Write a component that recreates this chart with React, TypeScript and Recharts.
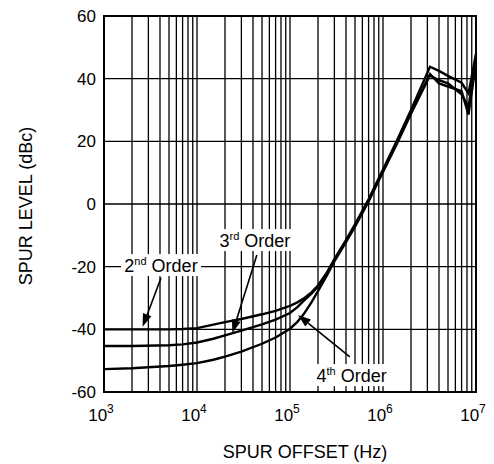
import React from "react";
import {
  LineChart,
  Line,
  XAxis,
  YAxis,
  CartesianGrid,
  ReferenceArea,
  ReferenceLine,
  ReferenceDot,
} from "recharts";

const FONT = '"Liberation Sans", Arial, Helvetica, sans-serif';

// spur offset frequencies (Hz)
const FREQ = [
  1e3, 2e3, 5e3, 7e3, 1e4, 1.5e4, 2e4, 3e4, 5e4, 7e4, 1e5, 1.2e5, 1.4e5, 1.7e5,
  2e5, 2.5e5, 3e5, 4e5, 5e5, 7e5, 1e6, 1.4e6, 2e6, 3.2e6, 4e6, 5e6, 7e6, 8.3e6,
  1e7,
];

// spur level (dBc) per loop filter order
const ORDER2 = [
  -40, -40, -40, -39.9, -39.6, -38.5, -37.7, -36.7, -35.2, -34.1, -32.5, -31.4,
  -30.2, -28.2, -26, -21.8, -17.6, -11.5, -6.5, 1.5, 11, 20, 30, 43.8, 42.5,
  40.9, 38.7, 35.3, 48,
];
const ORDER3 = [
  -45.3, -45.3, -45.1, -44.8, -44.2, -43, -41.9, -40.4, -38.4, -36.9, -34.8,
  -32.9, -30.9, -28.6, -26.3, -22.1, -17.9, -11.8, -6.8, 1.2, 10.6, 19.5, 29.3,
  41.5, 38.5, 37.5, 36, 28.5, 45,
];
const ORDER4 = [
  -52.7, -52.4, -51.7, -51.3, -50.8, -49.7, -48.7, -47.1, -44.6, -42.6, -39.8,
  -37.6, -35.2, -31.4, -27.8, -22.7, -18.3, -12.2, -7.2, 0.8, 10.2, 19, 28.8,
  41, 39.5, 38.5, 35, 31, 46,
];

const Y_TICKS = [-60, -40, -20, 0, 20, 40, 60];
const DECADES = [3, 4, 5, 6];
const X_TICKS = [
  ...DECADES.flatMap((d) => [1, 2, 3, 4, 5, 6, 7, 8, 9].map((m) => m * 10 ** d)),
  1e7,
];

// annotation callouts: label position, arrow start, arrow tip (data coords)
const CALLOUT_ORDER = ["2", "3", "4"];
const CALLOUT_SUP = ["nd", "rd", "th"];
const CALLOUT_LABEL = [
  [4.1e3, -19.5],
  [4.2e4, -11.5],
  [4.6e5, -54.6],
];
const CALLOUT_FROM = [
  [4.1e3, -23.6],
  [4.4e4, -16.3],
  [4.4e5, -48.8],
];
const CALLOUT_TIP = [
  [2.6e3, -39.2],
  [2.4e4, -41.2],
  [1.22e5, -35.4],
];

const data = FREQ.map((f, i) => ({
  f,
  o2: ORDER2[i],
  o3: ORDER3[i],
  o4: ORDER4[i],
}));

const isDecade = (v: number) =>
  Math.abs(Math.log10(v) - Math.round(Math.log10(v))) < 1e-9;

function XTick(props: any) {
  const { x, y, payload } = props;
  if (!isDecade(payload.value)) return null;
  const exp = Math.round(Math.log10(payload.value));
  return (
    <text x={x - 3} y={y + 21} textAnchor="middle" fontFamily={FONT} fontSize={17} fill="#000">
      <tspan>10</tspan>
      <tspan dy={-8} fontSize={12}>
        {exp}
      </tspan>
    </text>
  );
}

function Arrow(props: any) {
  const { x1, y1, x2, y2 } = props;
  const ang = Math.atan2(y2 - y1, x2 - x1);
  const len = 13;
  const hw = 4.5;
  const bx = x2 - len * Math.cos(ang);
  const by = y2 - len * Math.sin(ang);
  const px = -Math.sin(ang) * hw;
  const py = Math.cos(ang) * hw;
  return (
    <g>
      <line x1={x1} y1={y1} x2={bx} y2={by} stroke="#000" strokeWidth={1.6} />
      <polygon
        points={`${x2},${y2} ${bx + px},${by + py} ${bx - px},${by - py}`}
        fill="#000"
      />
    </g>
  );
}

function makeLabel(ord: string, sup: string) {
  return (props: any) => {
    const { cx, cy } = props;
    return (
      <g>
        <rect x={cx - 40} y={cy - 11} width={80} height={22} fill="#fff" />
        <text x={cx} y={cy + 7} textAnchor="middle" fontFamily={FONT} fontSize={18} fill="#000">
          <tspan>{ord}</tspan>
          <tspan dy={-7} fontSize={11}>
            {sup}
          </tspan>
          <tspan dy={7}> Order</tspan>
        </text>
      </g>
    );
  };
}

export default function App() {
  return (
    <div style={{ width: 486, height: 456 }}>
      <LineChart
        width={486}
        height={456}
        data={data}
        margin={{ top: 8, right: 18, bottom: 0, left: 0 }}
      >
        <CartesianGrid stroke="#000" strokeWidth={1.3} />
        <XAxis
          dataKey="f"
          type="number"
          scale="log"
          domain={[1e3, 1e7]}
          ticks={X_TICKS}
          interval={0}
          height={72}
          tickLine={false}
          axisLine={{ stroke: "#000", strokeWidth: 2 }}
          tick={<XTick />}
          label={{
            content: ({ viewBox }: any) => (
              <text
                x={viewBox.x + viewBox.width / 2 + 15}
                y={viewBox.y + 66}
                textAnchor="middle"
                fontFamily={FONT}
                fontSize={18}
                fill="#000"
              >
                SPUR OFFSET (Hz)
              </text>
            ),
          }}
        />
        <YAxis
          type="number"
          domain={[-60, 60]}
          ticks={Y_TICKS}
          interval={0}
          width={96}
          tickLine={false}
          axisLine={{ stroke: "#000", strokeWidth: 2 }}
          tick={{ fill: "#000", fontSize: 17, fontFamily: FONT }}
          label={{
            content: ({ viewBox }: any) => {
              const x = viewBox.x + 24;
              const y = viewBox.y + viewBox.height / 2 + 2;
              return (
                <text
                  x={x}
                  y={y}
                  transform={`rotate(-90, ${x}, ${y})`}
                  textAnchor="middle"
                  fontFamily={FONT}
                  fontSize={18}
                  fill="#000"
                >
                  SPUR LEVEL (dBc)
                </text>
              );
            },
          }}
        />
        <ReferenceArea
          x1={1e3}
          x2={1e7}
          y1={-60}
          y2={60}
          fill="none"
          stroke="#000"
          strokeWidth={2}
        />
        <Line type="linear" dataKey="o2" stroke="#000" strokeWidth={2.4} dot={false} isAnimationActive={false} />
        <Line type="linear" dataKey="o3" stroke="#000" strokeWidth={2.4} dot={false} isAnimationActive={false} />
        <Line type="linear" dataKey="o4" stroke="#000" strokeWidth={2.4} dot={false} isAnimationActive={false} />
        {CALLOUT_ORDER.map((ord, i) => (
          <ReferenceDot
            key={"l" + ord}
            x={CALLOUT_LABEL[i][0]}
            y={CALLOUT_LABEL[i][1]}
            r={1}
            shape={makeLabel(ord, CALLOUT_SUP[i])}
          />
        ))}
        {CALLOUT_ORDER.map((ord, i) => (
          <ReferenceLine
            key={"a" + ord}
            segment={[
              { x: CALLOUT_FROM[i][0], y: CALLOUT_FROM[i][1] },
              { x: CALLOUT_TIP[i][0], y: CALLOUT_TIP[i][1] },
            ]}
            shape={Arrow}
          />
        ))}
      </LineChart>
    </div>
  );
}
